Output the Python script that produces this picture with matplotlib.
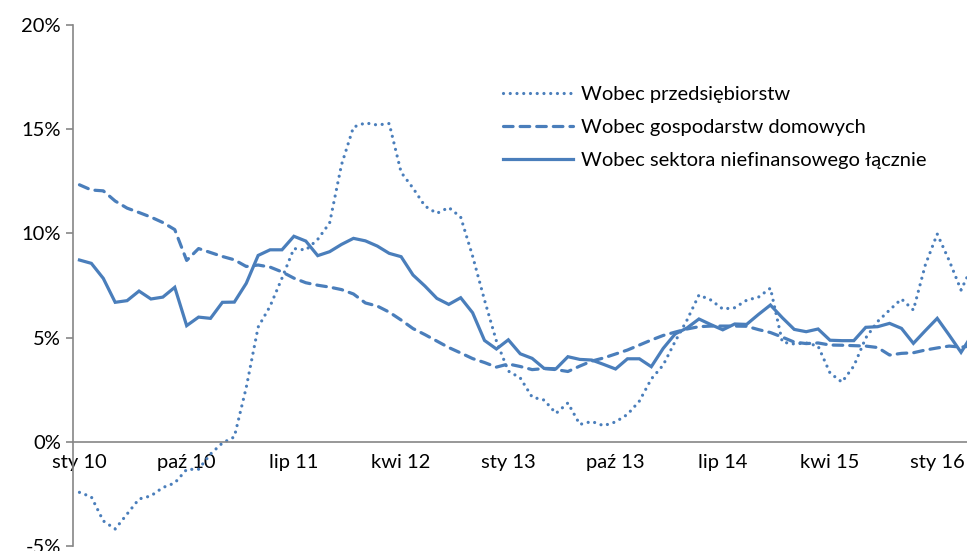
import matplotlib
matplotlib.use("Agg")
import matplotlib.pyplot as plt
import numpy as np

# miesięczne dane od sty 2010 (ostatni punkt częściowo poza wykresem)
przedsiebiorstwa = [
    -2.43, -2.65, -3.80, -4.19, -3.47, -2.75, -2.60, -2.20, -1.98, -1.33,
    -1.32, -0.59, -0.06, 0.23, 2.60, 5.50, 6.50, 7.85, 9.27, 9.20,
    9.71, 10.50, 13.30, 15.10, 15.30, 15.20, 15.27, 12.93, 12.17, 11.31,
    10.96, 11.24, 10.78, 8.91, 6.80, 4.83, 3.39, 3.06, 2.14, 2.00,
    1.36, 1.86, 0.83, 0.97, 0.77, 0.95, 1.31, 1.95, 3.01, 3.68,
    4.81, 5.84, 7.04, 6.80, 6.37, 6.43, 6.79, 6.94, 7.37, 4.78,
    4.69, 4.74, 4.59, 3.30, 2.86, 3.63, 4.98, 5.77, 6.32, 6.85,
    6.32, 8.48, 9.97, 8.70, 7.28, 8.50]
gospodarstwa = [
    12.33, 12.08, 12.04, 11.55, 11.21, 11.00, 10.78, 10.52, 10.18, 8.70,
    9.27, 9.08, 8.89, 8.73, 8.41, 8.48, 8.38, 8.15, 7.85, 7.63,
    7.51, 7.42, 7.30, 7.09, 6.66, 6.51, 6.22, 5.84, 5.43, 5.14,
    4.83, 4.52, 4.26, 3.99, 3.80, 3.58, 3.73, 3.61, 3.46, 3.51,
    3.46, 3.37, 3.63, 3.87, 4.02, 4.21, 4.40, 4.64, 4.88, 5.10,
    5.26, 5.41, 5.52, 5.55, 5.55, 5.55, 5.54, 5.38, 5.24, 5.02,
    4.78, 4.71, 4.74, 4.64, 4.63, 4.61, 4.59, 4.52, 4.16, 4.24,
    4.27, 4.40, 4.50, 4.59, 4.54, 4.60]
lacznie = [
    8.72, 8.56, 7.84, 6.69, 6.77, 7.23, 6.85, 6.94, 7.41, 5.57,
    5.98, 5.92, 6.69, 6.70, 7.60, 8.94, 9.21, 9.21, 9.86, 9.63,
    8.93, 9.12, 9.47, 9.76, 9.64, 9.39, 9.04, 8.88, 8.00, 7.47,
    6.88, 6.59, 6.91, 6.19, 4.86, 4.45, 4.89, 4.22, 4.00, 3.52,
    3.50, 4.08, 3.95, 3.92, 3.71, 3.49, 3.98, 3.98, 3.60, 4.48,
    5.17, 5.46, 5.89, 5.62, 5.37, 5.65, 5.63, 6.11, 6.56, 5.95,
    5.39, 5.28, 5.41, 4.87, 4.85, 4.85, 5.49, 5.52, 5.68, 5.44,
    4.72, 5.33, 5.92, 5.12, 4.29, 5.20]

etykiety_x = ["sty 10", "paź 10", "lip 11", "kwi 12", "sty 13",
              "paź 13", "lip 14", "kwi 15", "sty 16"]
etykiety_y = ["-5%", "0%", "5%", "10%", "15%", "20%"]
nazwy = ["Wobec przedsiębiorstw", "Wobec gospodarstw domowych",
         "Wobec sektora niefinansowego łącznie"]

KOLOR = "#4A7EBB"
SZARY = "#868686"
FS = 14.5
plt.rcParams["font.family"] = ["Lato", "DejaVu Sans"]

fig = plt.figure(figsize=(9.67, 5.51), dpi=100)
ax = fig.add_axes([0.0760, 0.00926, 0.924, 0.9454])

# najpierw oś pozioma w zerze (set_position resetuje ustawienia ticków)
for s in ["top", "right"]:
    ax.spines[s].set_visible(False)
ax.spines["bottom"].set_position(("data", 0))
for s in ["left", "bottom"]:
    ax.spines[s].set_color(SZARY)
    ax.spines[s].set_linewidth(1.2)

x = np.arange(len(lacznie))
ax.plot(x, przedsiebiorstwa, color=KOLOR, lw=2.3, linestyle=(0, (0.01, 2.1)),
        dash_capstyle="round", label=nazwy[0])
ax.plot(x, gospodarstwa, color=KOLOR, lw=2.3, linestyle=(0, (3.0, 2.2)),
        dash_capstyle="round", label=nazwy[1])
ax.plot(x, lacznie, color=KOLOR, lw=2.3, solid_joinstyle="miter", label=nazwy[2])

ax.set_xlim(-0.5, 74.5)
ax.set_ylim(-5, 20)
ax.set_yticks(np.arange(-5, 21, 5))
ax.set_yticklabels(etykiety_y)
ax.set_xticks(np.arange(0, 9 * len(etykiety_x), 9))
ax.set_xticklabels(etykiety_x)

ax.tick_params(axis="y", length=5, width=1.2, color=SZARY, pad=4, labelsize=FS)
ax.tick_params(axis="x", length=0, pad=9, labelsize=FS)
ax.patch.set_visible(False)

ax.legend(loc="upper left", bbox_to_anchor=(0.4807, 0.883), frameon=False,
          fontsize=FS, handlelength=3.5, handletextpad=0.35,
          labelspacing=0.8, borderpad=0, borderaxespad=0)

fig.savefig("out.png", dpi=100)
